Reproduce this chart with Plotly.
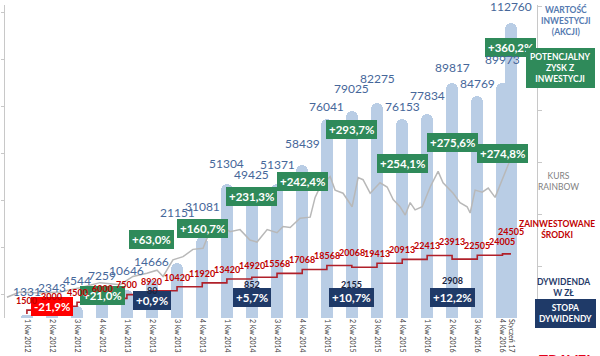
import plotly.graph_objects as go

# ---------------- data ----------------
bar_dates = ["2012-03-31", "2012-06-30", "2012-09-30", "2012-12-31",
             "2013-03-31", "2013-06-30", "2013-09-30", "2013-12-31",
             "2014-03-31", "2014-06-30", "2014-09-30", "2014-12-31",
             "2015-03-31", "2015-06-30", "2015-09-30", "2015-12-31",
             "2016-03-31", "2016-06-30", "2016-09-30", "2016-12-31",
             "2017-01-31"]
quarter_labels = ["1 Kw 2012", "2 Kw 2012", "3 Kw 2012", "4 Kw 2012",
                  "1 Kw 2013", "2 Kw 2013", "3 Kw 2013", "4 Kw 2013",
                  "1 Kw 2014", "2 Kw 2014", "3 Kw 2014", "4 Kw 2014",
                  "1 Kw 2015", "2 Kw 2015", "3 Kw 2015", "4 Kw 2015",
                  "1 Kw 2016", "2 Kw 2016", "3 Kw 2016", "4 Kw 2016",
                  "Styczeń 17"]
investment_value = [1331, 2343, 4544, 7259, 10646, 14666, 21151, 31081, 51304, 49425,
                    51371, 58439, 76041, 79025, 82275, 76153, 77834, 89817, 84769, 89973,
                    112760]
invested = [1500, 3000, 4500, 6000, 7500, 8920, 10420, 11920, 13420, 14920,
            15568, 17068, 18568, 20068, 19413, 20913, 22413, 23913, 22505, 24005,
            24505]

rainbow_dates = ["2012-01-18", "2012-03-05", "2012-05-17", "2012-07-30", "2012-10-11",
                 "2012-12-23", "2013-03-06", "2013-04-22", "2013-06-12", "2013-07-19",
                 "2013-08-10", "2013-09-15", "2013-10-22", "2013-11-27", "2014-01-03",
                 "2014-02-08", "2014-03-06", "2014-04-11", "2014-05-18", "2014-06-23",
                 "2014-07-19", "2014-08-25", "2014-09-30", "2014-10-22", "2014-11-17",
                 "2014-12-23", "2015-01-29", "2015-02-16", "2015-03-06", "2015-04-12",
                 "2015-04-30", "2015-05-29", "2015-07-01", "2015-07-23", "2015-08-10",
                 "2015-09-05", "2015-10-11", "2015-11-06", "2015-11-28", "2015-12-23",
                 "2016-01-11", "2016-01-29", "2016-02-16", "2016-03-13", "2016-04-11",
                 "2016-05-10", "2016-05-28", "2016-07-04", "2016-07-29", "2016-08-24",
                 "2016-09-04", "2016-09-22", "2016-10-18", "2016-11-09", "2016-12-04",
                 "2016-12-23", "2017-01-17", "2017-01-28"]
rainbow_price = [2.0, 2.5, 2.4, 2.5, 2.9, 3.4, 3.2, 4.0, 4.3, 4.6,
                 4.0, 5.6, 5.9, 6.6, 6.7, 9.1, 9.0, 8.3, 8.5, 7.5,
                 7.3, 8.5, 8.2, 8.8, 8.7, 9.6, 9.7, 11.6, 12.6, 13.6,
                 12.3, 12.0, 10.7, 13.5, 13.3, 12.0, 13.0, 12.6, 11.4, 10.7,
                 9.9, 11.1, 10.4, 10.7, 12.6, 14.1, 13.0, 12.0, 11.1, 10.7,
                 10.1, 12.3, 12.1, 12.5, 11.6, 12.8, 14.5, 15.2]

growth_idx = [1, 3, 5, 7, 9, 11, 13, 15, 17, 19, 20]
growth_txt = ["-21,9%", "+21,0%", "+63,0%", "+160,7%", "+231,3%", "+242,4%",
              "+293,7%", "+254,1%", "+275,6%", "+274,8%", "+360,2%"]

dividend_idx = [5, 9, 13, 17]
dividend_amount = ["80", "852", "2155", "2908"]
dividend_yield = ["+0,9%", "+5,7%", "+10,7%", "+12,2%"]

# ---------------- layout / style ----------------
growth_label_y = [0.006, 0.042, 0.220, 0.256, 0.387, 0.435, 0.601, 0.495, 0.562, 0.527, 0.895]
dividend_amount_y = [0.064, 0.083, 0.083, 0.096]
dividend_yield_y = [0.024, 0.034, 0.034, 0.034]
value_label_shift = [14, 15, 16, 14, 10, 9, 41, 21, 11, 5, 10, 12, 3, 13, 15, 3, 9, 6, 3, 14, 7]
invested_label_shift = [6] * 20 + [15]

FONT = "Lato"
GREEN = "#2f8a5a"
NAVY = "#1f3a68"
BAR = "#b9cde5"
VAL_BLUE = "#46679a"
RED_LINE = "#b0202a"
RED_TXT = "#c00000"

fig = go.Figure()

fig.add_trace(go.Bar(
    x=bar_dates, y=investment_value, width=44 * 86400000,
    marker=dict(color=BAR, cornerradius="50%", line=dict(width=0)),
    hoverinfo="skip", showlegend=False))

fig.add_trace(go.Scatter(
    x=rainbow_dates, y=rainbow_price, yaxis="y2", mode="lines",
    line=dict(color="#b8b8b8", width=1.5), hoverinfo="skip", showlegend=False))

fig.add_trace(go.Scatter(
    x=bar_dates, y=invested, mode="lines", line=dict(color=RED_LINE, width=1.6, shape="vh"),
    hoverinfo="skip", showlegend=False))

ann = []
# boxes first (drawn underneath)
for k, idx in enumerate(growth_idx):
    ann.append(dict(x=bar_dates[idx], y=growth_label_y[k], xref="x", yref="paper",
                    text="<b>%s</b>" % growth_txt[k], showarrow=False,
                    bgcolor="#ff0000" if growth_txt[k].startswith("-") else GREEN,
                    borderpad=3, borderwidth=0,
                    font=dict(family=FONT, size=11.5, color="white")))
for k, idx in enumerate(dividend_idx):
    ann.append(dict(x=bar_dates[idx], y=dividend_yield_y[k], xref="x", yref="paper",
                    text="<b>%s</b>" % dividend_yield[k], showarrow=False,
                    bgcolor=NAVY, borderpad=3, borderwidth=0,
                    font=dict(family=FONT, size=11.5, color="white")))
for k, idx in enumerate(dividend_idx):
    ann.append(dict(x=bar_dates[idx], y=dividend_amount_y[k], xref="x", yref="paper",
                    text="<b>%s</b>" % dividend_amount[k], showarrow=False,
                    font=dict(family=FONT, size=9, color="#1b2540")))
for i, v in enumerate(investment_value):
    ann.append(dict(x=bar_dates[i], y=v, xref="x", yref="y", text=str(v), showarrow=False,
                    yanchor="bottom", yshift=value_label_shift[i],
                    font=dict(family=FONT, size=12, color=VAL_BLUE)))
for i, v in enumerate(invested):
    ann.append(dict(x=bar_dates[i], y=v, xref="x", yref="y", text="<b>%d</b>" % v,
                    showarrow=False, yanchor="bottom", yshift=invested_label_shift[i],
                    font=dict(family=FONT, size=9, color=RED_TXT)))

side = [
    ("<b>WARTOŚĆ<br>INWESTYCJI<br>(AKCJI)</b>", 1.055, 0.949, "#5479b0", None),
    ("<b>POTENCJALNY<br>ZYSK Z<br>INWESTYCJI</b>", 1.045, 0.799, "white", GREEN),
    ("KURS<br>RAINBOW", 1.040, 0.435, "#808080", None),
    ("<b>ZAINWESTOWANE<br>ŚRODKI</b>", 1.038, 0.284, RED_TXT, None),
    ("<b>DYWIDENDA<br>W ZŁ</b>", 1.049, 0.099, NAVY, None),
    ("<b>STOPA<br>DYWIDENDY</b>", 1.053, 0.013, "white", NAVY),
]
for txt, x, y, col, bg in side:
    d = dict(x=x, y=y, xref="paper", yref="paper", text=txt,
             showarrow=False, xanchor="center", yanchor="middle",
             font=dict(family=FONT, size=8.5, color=col))
    if bg:
        d.update(bgcolor=bg, borderpad=4, borderwidth=0)
    ann.append(d)
ann.append(dict(x=1.055, y=-0.098, xref="paper", yref="paper", text="<b>TRAVEL</b>",
                showarrow=False, xanchor="center", yanchor="top",
                font=dict(family=FONT, size=15, color="#e2001a")))

fig.update_layout(
    template="none",
    width=600, height=356,
    margin=dict(l=5, r=63, t=5, b=38),
    paper_bgcolor="white", plot_bgcolor="white",
    bargap=0, barmode="overlay",
    annotations=ann,
    xaxis=dict(type="date", range=["2012-01-11", "2017-05-06"], showgrid=False,
               showline=False, zeroline=False, ticks="",
               tickmode="array", tickvals=bar_dates, ticktext=quarter_labels,
               tickangle=90, tickfont=dict(family=FONT, size=7, color="#404040")),
    yaxis=dict(range=[0, 119650], showgrid=False, zeroline=False, showline=True,
               linecolor="#c8c8c8", linewidth=1, ticks="outside", ticklen=3,
               tickcolor="#c8c8c8", tick0=8800, dtick=17970, showticklabels=False),
    yaxis2=dict(range=[0, 30.1], overlaying="y", side="right", showgrid=False,
                zeroline=False, showline=True, linecolor="#c8c8c8", linewidth=1,
                ticks="outside", ticklen=4, tickcolor="#c8c8c8", dtick=5,
                showticklabels=False),
)

fig.write_html("out.html", config={"displayModeBar": False},
               post_script="document.body.style.margin='0';document.body.style.padding='0';")
